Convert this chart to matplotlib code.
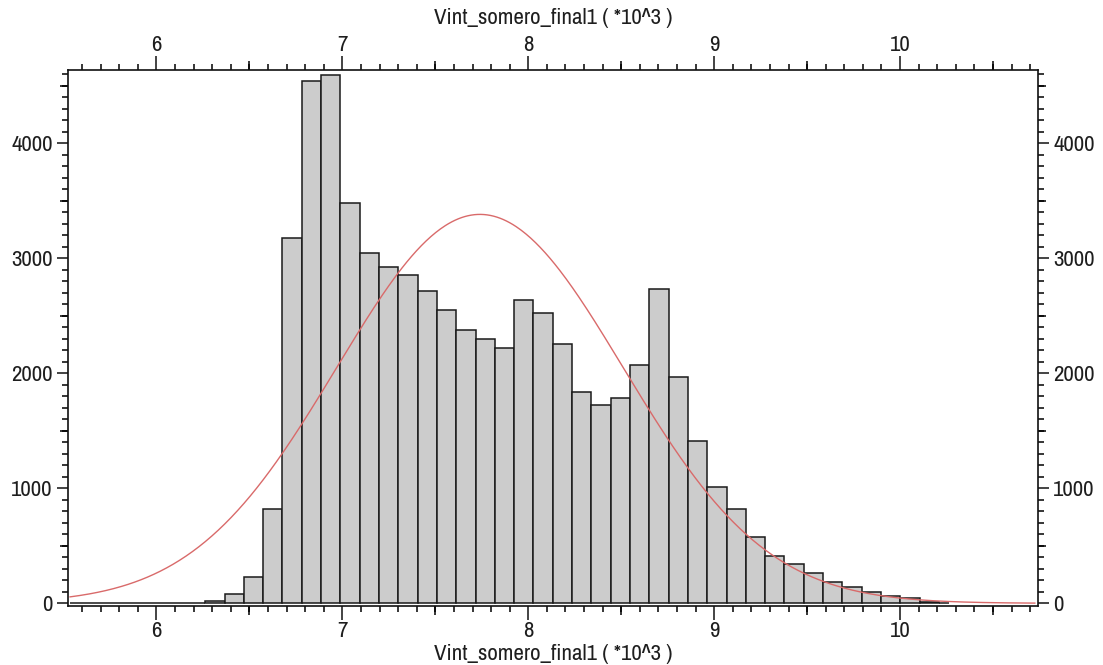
import numpy as np
import matplotlib
matplotlib.use("Agg")
import matplotlib.pyplot as plt
from matplotlib import font_manager as fm
from matplotlib.ticker import MultipleLocator, FixedLocator, NullFormatter

# Histogram of Vint_somero_final1 (values in thousands)
bin_start = 5.535
bin_width = 0.10387
x_max = 10.263
counts = [0, 0, 0, 0, 0, 0, 0,
          23, 81, 226, 820, 3174, 4542, 4594, 3483, 3043,
          2922, 2855, 2716, 2548, 2379, 2301, 2223, 2637, 2522, 2255,
          1840, 1722, 1785, 2072, 2730, 1965, 1411, 1014, 817, 579,
          414, 339, 261, 183, 139, 96, 66, 49, 9, 0]

# Normal fit overlaid on the histogram
fit_mean = 7.74
fit_sd = 0.77
fit_range = (5.535, 10.725)

x_major = [6, 7, 8, 9, 10]
x_half = [5.5, 6.5, 7.5, 8.5, 9.5, 10.5]
y_major = [0, 1000, 2000, 3000, 4000]
y_half = [500, 1500, 2500, 3500, 4500]
axis_title = "Vint_somero_final1 ( *10^3 )"

# Prefer a narrow sans face; otherwise use Liberation Sans at a size with similar widths
narrow = [f for f in fm.fontManager.ttflist
          if 'Narrow' in f.name and f.style == 'normal' and f.weight in (400, 'normal', 'regular')]
if narrow:
    font = fm.FontProperties(fname=narrow[0].fname, size=16.5)
else:
    font = fm.FontProperties(family=['Liberation Sans', 'DejaVu Sans'], size=13.8)

text_color = '#1e1e1e'
W, H = 1103, 665
fig = plt.figure(figsize=(W / 100, H / 100), dpi=100)
left, right, top, bottom = 68, 1038, 70, 605.5
ax = fig.add_axes([left / W, 1 - bottom / H, (right - left) / W, (bottom - top) / H])

counts = np.asarray(counts, dtype=float)
edges = np.minimum(bin_start + bin_width * np.arange(len(counts) + 1), x_max)
ax.bar(edges[:-1], counts, width=np.diff(edges), align='edge',
       color='#cccccc', edgecolor='#1a1a1a', linewidth=1.1, zorder=2)

xs = np.linspace(fit_range[0], fit_range[1], 600)
scale = counts.sum() * bin_width
ys = scale / (fit_sd * np.sqrt(2 * np.pi)) * np.exp(-0.5 * ((xs - fit_mean) / fit_sd) ** 2)
ax.plot(xs, ys, color='#d96a6a', linewidth=1.0, zorder=3)

ax.set_xlim(5.524, 10.742)
ax.set_ylim(-19, 4637)

for s in ax.spines.values():
    s.set_linewidth(1.2)
    s.set_color('#111111')

ax.xaxis.set_major_locator(FixedLocator(x_major))
ax.xaxis.set_minor_locator(MultipleLocator(0.1))
ax.yaxis.set_major_locator(FixedLocator(y_major))
ax.yaxis.set_minor_locator(MultipleLocator(100))
ax.set_xticklabels([str(v) for v in x_major], fontproperties=font)
ax.set_yticklabels([str(v) for v in y_major], fontproperties=font)

ax.tick_params(axis='x', which='major', direction='out', length=10, width=1.1,
               top=True, bottom=True, labeltop=True, labelbottom=True,
               pad=1, color='#111111', labelcolor=text_color)
ax.tick_params(axis='x', which='minor', direction='out', length=4, width=1.1,
               top=True, bottom=True)
ax.tick_params(axis='y', which='major', direction='out', length=8, width=1.1,
               left=True, right=True, labelleft=True, labelright=True,
               pad=3, color='#111111', labelcolor=text_color)
ax.tick_params(axis='y', which='minor', direction='out', length=4, width=1.1,
               left=True, right=True)

# Mid-interval ticks (halves on x, 500s on y) drawn slightly longer
for loc in ('bottom', 'top'):
    sec = ax.secondary_xaxis(loc)
    sec.xaxis.set_major_locator(FixedLocator(x_half))
    sec.xaxis.set_major_formatter(NullFormatter())
    sec.tick_params(direction='out', length=6.5, width=1.1)
    sec.spines[loc].set_visible(False)
for loc in ('left', 'right'):
    sec = ax.secondary_yaxis(loc)
    sec.yaxis.set_major_locator(FixedLocator(y_half))
    sec.yaxis.set_major_formatter(NullFormatter())
    sec.tick_params(direction='out', length=6, width=1.1)
    sec.spines[loc].set_visible(False)

cx = (left + right) / 2 / W
fig.text(cx, 1 - 18 / H, axis_title, ha='center', va='center',
         fontproperties=font, color=text_color)
fig.text(cx, 1 - 654 / H, axis_title, ha='center', va='center',
         fontproperties=font, color=text_color)

fig.savefig('out.png', dpi=100, facecolor='white')
